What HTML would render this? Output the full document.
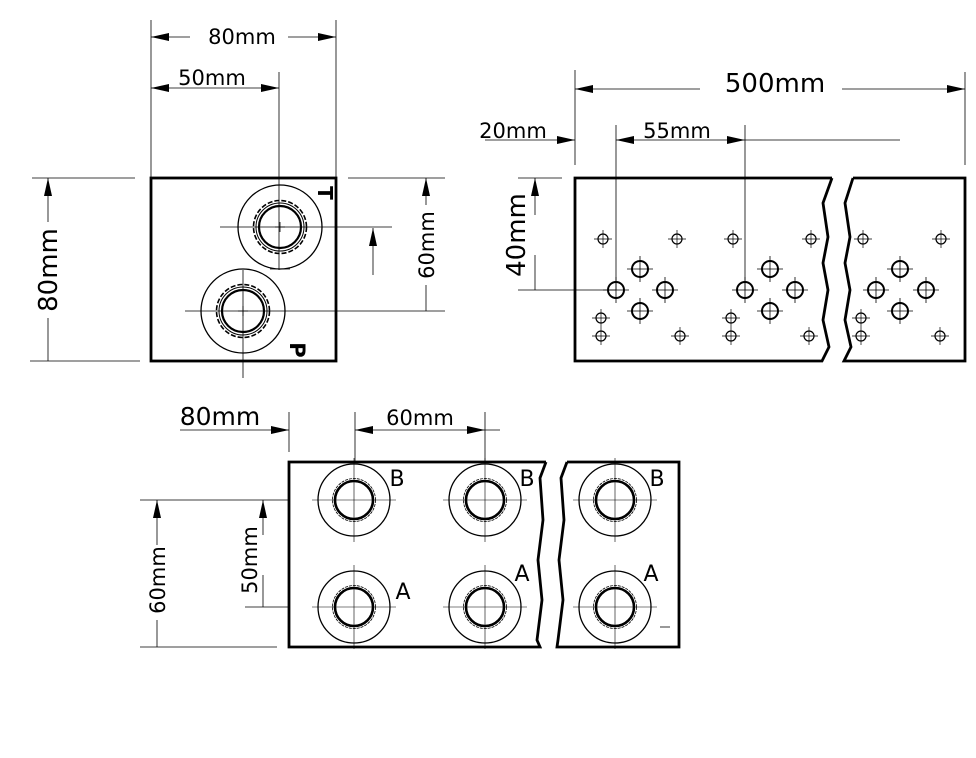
<!DOCTYPE html>
<html><head><meta charset="utf-8"><style>
html,body{margin:0;padding:0;background:#fff}
svg{display:block}
text{font-family:"DejaVu Sans","Liberation Sans",sans-serif;fill:#000}
</style></head><body>
<svg width="976" height="758" viewBox="0 0 976 758" xmlns="http://www.w3.org/2000/svg">
<defs>
<marker id="a" viewBox="0 0 18 8" refX="18" refY="4" markerWidth="18" markerHeight="8" markerUnits="userSpaceOnUse" orient="auto-start-reverse"><path d="M0,0L18,4L0,8z" fill="#000"/></marker>
<g id="sm"><circle r="5" fill="none" stroke="#000" stroke-width="1.2"/><path d="M-9,0H9M0,-9V9" stroke="#000" stroke-width="0.7"/></g>
<g id="bg"><circle r="8" fill="none" stroke="#000" stroke-width="2"/><path d="M-13,0H13M0,-13V13" stroke="#000" stroke-width="0.8"/></g>
<g id="tp"><circle r="42" fill="none" stroke="#000" stroke-width="1.3"/><circle r="21" fill="none" stroke="#000" stroke-width="2.2"/><circle r="24" fill="none" stroke="#000" stroke-width="1"/><circle r="26.5" fill="none" stroke="#000" stroke-width="1.6" stroke-dasharray="5,2"/><path d="M-5,0H5M0,-5V5" stroke="#000" stroke-width="0.8"/></g>
<g id="ab"><circle r="36" fill="none" stroke="#000" stroke-width="1.3"/><circle r="19" fill="none" stroke="#000" stroke-width="2.6"/><circle r="21.5" fill="none" stroke="#000" stroke-width="0.8" stroke-dasharray="3,1"/><path d="M-42,0H42M0,-42V42" stroke="#000" stroke-width="0.6"/></g>
</defs>
<g stroke="#000" fill="none">
<rect x="151" y="178" width="185" height="183" stroke-width="2.8"/>
<g stroke-width="0.8">
<path d="M151,20V178M336,20V178"/>
<path d="M151,37H190M288,37H336" marker-start="url(#a)" marker-end="url(#a)"/>
<path d="M151,88H279" marker-start="url(#a)" marker-end="url(#a)"/>
<path d="M279,72V270M220,227H392M185,311H445M243,270V378M348,178H445"/>
<path d="M32,178H135M30,361H140"/>
<path d="M48,178V222M48,318V361" marker-start="url(#a)"/>
<path d="M426,178V205M426,285V311" marker-start="url(#a)"/>
<path d="M373,275V228" marker-end="url(#a)"/>
<path d="M270,269H290"/>
</g>
<use href="#tp" x="280" y="227"/>
<use href="#tp" x="243" y="311"/>
<path d="M832,178H575V361H822L829,347L823,320L828,290L823,263L828,237L823,203L832,178" stroke-width="2.8"/>
<path d="M853,178H965V361H844L851,347L845,320L850,290L845,263L850,237L845,203L853,178" stroke-width="2.8"/>
<g stroke-width="0.8">
<path d="M575,70V165M965,72V165"/>
<path d="M575,89H700M842,89H965" marker-start="url(#a)" marker-end="url(#a)"/>
<path d="M485,140H575" marker-end="url(#a)"/>
<path d="M616,140H745" marker-start="url(#a)" marker-end="url(#a)"/>
<path d="M745,140H900M616,125V290M745,125V290M518,290H616M518,178H562"/>
<path d="M535,178V215M535,255V290" marker-start="url(#a)"/>
</g>
</g>
<g>
<use href="#sm" x="603" y="239"/><use href="#sm" x="677" y="239"/><use href="#sm" x="733" y="239"/><use href="#sm" x="811" y="239"/>
<use href="#sm" x="601" y="318"/><use href="#sm" x="601" y="336"/><use href="#sm" x="680" y="336"/><use href="#sm" x="731" y="318"/><use href="#sm" x="731" y="336"/><use href="#sm" x="809" y="336"/>
<use href="#sm" x="863" y="239"/><use href="#sm" x="941" y="239"/><use href="#sm" x="861" y="318"/><use href="#sm" x="861" y="336"/><use href="#sm" x="940" y="336"/>
<use href="#bg" x="640" y="269"/><use href="#bg" x="616" y="290"/><use href="#bg" x="665" y="290"/><use href="#bg" x="640" y="311"/>
<use href="#bg" x="770" y="269"/><use href="#bg" x="745" y="290"/><use href="#bg" x="795" y="290"/><use href="#bg" x="770" y="311"/>
<use href="#bg" x="900" y="269"/><use href="#bg" x="876" y="290"/><use href="#bg" x="926" y="290"/><use href="#bg" x="900" y="311"/>
</g>
<g stroke="#000" fill="none">
<path d="M546,462H289V647H540L537,640L542,600L538,560L543,520L540,478L546,462" stroke-width="2.8"/>
<path d="M567,462H679V647H557L558,640L563,600L559,560L564,520L561,478L567,462" stroke-width="2.8"/>
<g stroke-width="0.8">
<path d="M289,412V452M355,412V462M485,412V462"/>
<path d="M180,430H289" marker-end="url(#a)"/>
<path d="M355,430H485" marker-start="url(#a)" marker-end="url(#a)"/>
<path d="M485,430H500M140,500H289M140,647H277M245,607H289"/>
<path d="M157,500V545M157,620V647" marker-start="url(#a)"/>
<path d="M263,500V535M263,575V607" marker-start="url(#a)"/>
<path d="M660,627H670"/>
</g>
</g>
<use href="#ab" x="354" y="500"/><use href="#ab" x="485" y="500"/><use href="#ab" x="615" y="500"/>
<use href="#ab" x="354" y="607"/><use href="#ab" x="485" y="607"/><use href="#ab" x="615" y="607"/>
<g>
<text x="242" y="44" font-size="21" text-anchor="middle">80mm</text>
<text x="212" y="85" font-size="21" text-anchor="middle">50mm</text>
<text transform="translate(57,270) rotate(-90)" font-size="26" text-anchor="middle">80mm</text>
<text transform="translate(434,245) rotate(-90)" font-size="21" text-anchor="middle">60mm</text>
<text transform="translate(318,193) rotate(90)" font-size="20" text-anchor="middle" font-weight="bold">T</text>
<text transform="translate(290,350) rotate(90)" font-size="21" text-anchor="middle" font-weight="bold">P</text>
<text x="775" y="92" font-size="26" text-anchor="middle">500mm</text>
<text x="513" y="138" font-size="21" text-anchor="middle">20mm</text>
<text x="677" y="138" font-size="21" text-anchor="middle">55mm</text>
<text transform="translate(525,235) rotate(-90)" font-size="26" text-anchor="middle">40mm</text>
<text x="220" y="425" font-size="25" text-anchor="middle">80mm</text>
<text x="420" y="425" font-size="21" text-anchor="middle">60mm</text>
<text transform="translate(165,580) rotate(-90)" font-size="21" text-anchor="middle">60mm</text>
<text transform="translate(257,560) rotate(-90)" font-size="21" text-anchor="middle">50mm</text>
<text x="397" y="486" font-size="22" text-anchor="middle">B</text>
<text x="527" y="486" font-size="22" text-anchor="middle">B</text>
<text x="657" y="486" font-size="22" text-anchor="middle">B</text>
<text x="403" y="599" font-size="22" text-anchor="middle">A</text>
<text x="522" y="581" font-size="22" text-anchor="middle">A</text>
<text x="651" y="581" font-size="22" text-anchor="middle">A</text>
</g>
</svg>
</body></html>
